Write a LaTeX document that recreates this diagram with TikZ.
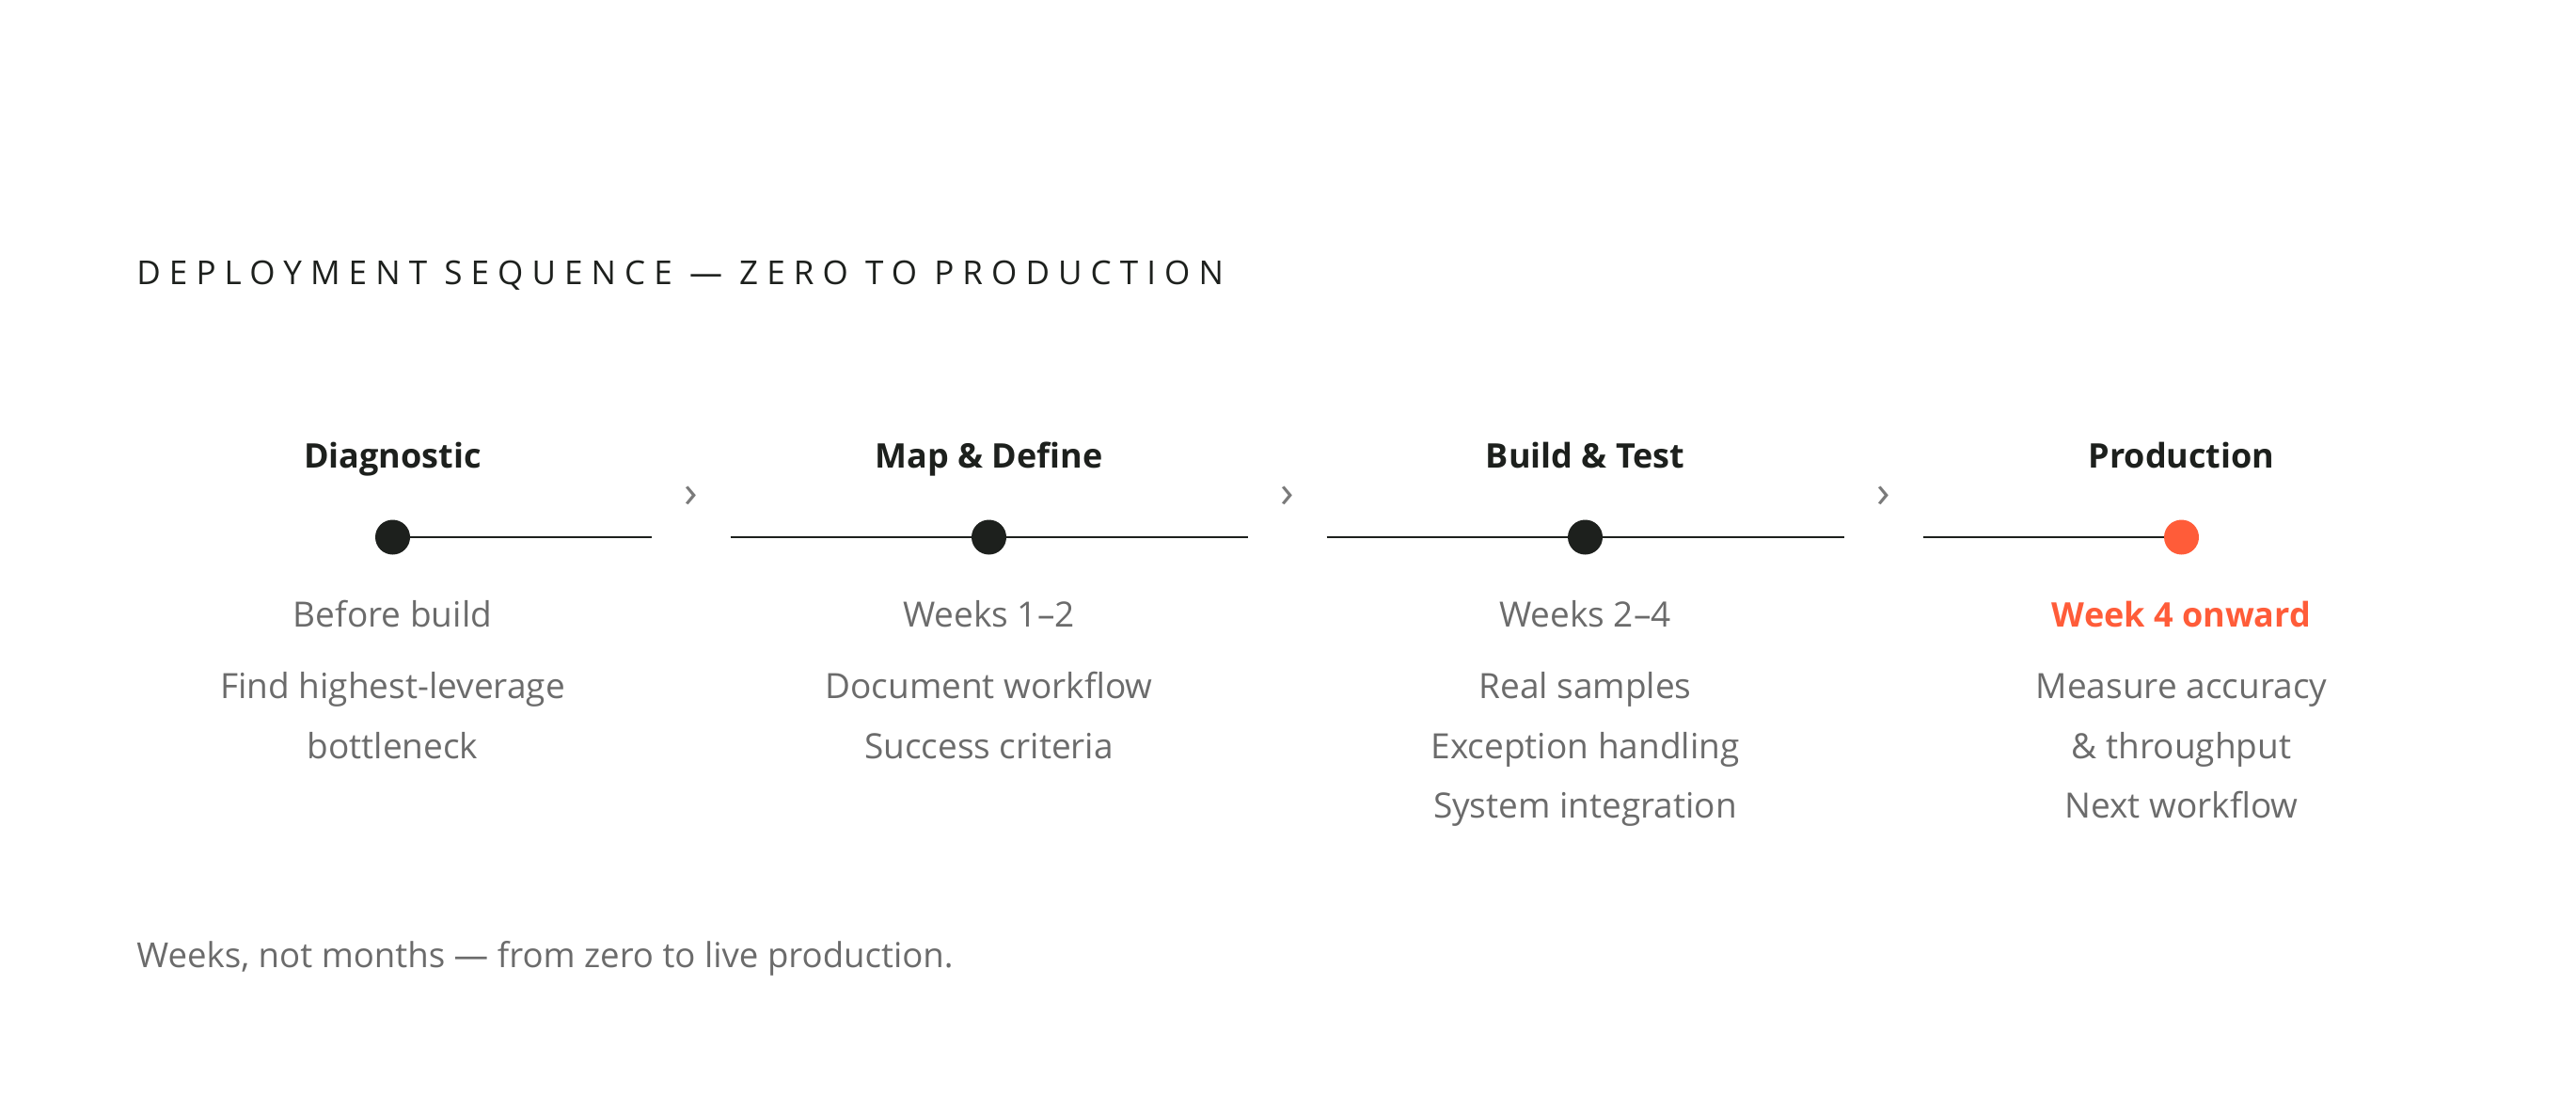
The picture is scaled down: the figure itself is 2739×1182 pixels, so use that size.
\documentclass[tikz,border=0pt]{standalone}
\usepackage{fontspec}
\setmainfont{Open Sans}
\usetikzlibrary{positioning}
\definecolor{myink}{HTML}{1D201D}
\definecolor{mygray}{HTML}{6B6B6B}
\definecolor{myorange}{HTML}{FF5C39}
\definecolor{mychevron}{HTML}{7A7A7A}
\tikzset{
  title/.style={anchor=base west, inner sep=0, text=myink, font=\fontsize{17.5}{20}\selectfont\addfontfeature{LetterSpace=26}},
  heading/.style={anchor=base, inner sep=0, text=myink, font=\fontsize{18}{22}\selectfont\bfseries},
  dot/.style={circle, fill=myink, inner sep=0, minimum size=18.5pt},
  track/.style={draw=myink, line width=1.25pt},
  when/.style={anchor=base, inner sep=0, text=mygray, font=\fontsize{18.5}{22}\selectfont},
  tasks/.style={anchor=base, inner sep=0, text=mygray, align=center, font=\fontsize{18.5}{31.75}\selectfont},
  chevron/.style={inner sep=0, text=mychevron, font=\fontsize{24}{26}\selectfont},
  note/.style={anchor=base west, inner sep=0, text=mygray, font=\fontsize{18.3}{22}\selectfont}
}
\begin{document}
\begin{tikzpicture}[x=0.5pt,y=-0.5pt]
\useasboundingbox[fill=white] (0,0) rectangle (2739,1182);

% title
\node [title] (title) at (145,302) {DEPLOYMENT SEQUENCE — ZERO TO PRODUCTION};

% dots
\node [dot] (d1) at (417.5,571) {};
\node [dot] (d2) at (1051.5,571) {};
\node [dot] (d3) at (1685.5,571) {};
\node [dot, fill=myorange] (d4) at (2319.5,571) {};

% track ends
\coordinate (r1) at (692.5,571);
\coordinate (l2) at (776.5,571);
\coordinate (r2) at (1326.5,571);
\coordinate (l3) at (1410.5,571);
\coordinate (r3) at (1960.5,571);
\coordinate (l4) at (2044.5,571);

\draw [track] (d1) -- (r1);
\draw [track] (l2) -- (d2) -- (r2);
\draw [track] (l3) -- (d3) -- (r3);
\draw [track] (l4) -- (d4);

% chevrons
\node [chevron] (c1) at (735,528) {›};
\node [chevron] (c2) at (1369,528) {›};
\node [chevron] (c3) at (2003,528) {›};

% headings
\node [heading] (h1) at (417.5,497) {Diagnostic};
\node [heading] (h2) at (1051.5,497) {Map \& Define};
\node [heading] (h3) at (1685.5,497) {Build \& Test};
\node [heading] (h4) at (2319.5,497) {Production};

% timing
\node [when] (w1) at (417.5,666) {Before build};
\node [when] (w2) at (1051.5,666) {Weeks 1–2};
\node [when] (w3) at (1685.5,666) {Weeks 2–4};
\node [when, text=myorange, font=\fontsize{18}{22}\selectfont\bfseries] (w4) at (2319.5,666) {Week 4 onward};

% tasks (base = last line)
\node [tasks] (t1) at (417.5,806) {Find highest-leverage\\ bottleneck};
\node [tasks] (t2) at (1051.5,806) {Document workflow\\ Success criteria};
\node [tasks] (t3) at (1685.5,869.5) {Real samples\\ Exception handling\\ System integration};
\node [tasks] (t4) at (2319.5,869.5) {Measure accuracy\\ \& throughput\\ Next workflow};

% footer
\node [note] (note) at (145,1028) {Weeks, not months — from zero to live production.};

\end{tikzpicture}
\end{document}
